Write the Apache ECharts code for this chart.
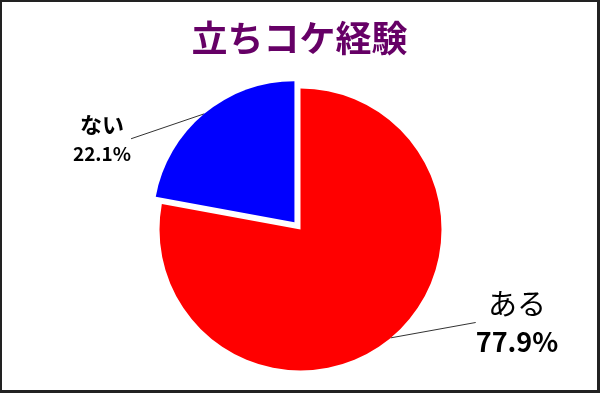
<!DOCTYPE html>
<html><head><meta charset="utf-8">
<script src="https://cdn.jsdelivr.net/npm/echarts@6/dist/echarts.min.js"></script>
<style>
html,body{margin:0;padding:0;background:#fff;}
#c{width:600px;height:393px;box-sizing:border-box;border:2px solid #222;border-right-width:3px;border-bottom-width:3px;}
</style></head><body>
<div id="c"></div>
<script>
var titleText = '立ちコケ経験';
var categories = ['ある', 'ない'];
var values = [77.9, 22.1];
var colors = ['#ff0000', '#0000ff'];

var chart = echarts.init(document.getElementById('c'));
var cx = 298.5, cy = 227.5, R = 141;
var explodeIdx = 1, explodeDist = 9.5;
var labelPos = [
  {x: 515, y: 319},
  {x: 100, y: 137}
];
var richByIdx = [
  {n: {fontSize: 29, fontWeight: 'normal', color: '#000', lineHeight: 42, fontFamily: 'Noto Sans CJK JP'},
   p: {fontSize: 27, fontWeight: 'bold', color: '#000', lineHeight: 34, fontFamily: 'Noto Sans CJK JP'}},
  {n: {fontSize: 22, fontWeight: 'bold', color: '#000', lineHeight: 30, fontFamily: 'Noto Sans CJK JP'},
   p: {fontSize: 19, fontWeight: 'bold', color: '#000', lineHeight: 28, fontFamily: 'Noto Sans CJK JP'}}
];
var total = values.reduce(function (a, b) { return a + b; }, 0);
var before = 0;
for (var k = 0; k < explodeIdx; k++) before += values[k];
var midFrac = (before + values[explodeIdx] / 2) / total;
var midAng = Math.PI / 2 - midFrac * 2 * Math.PI;
var ox = explodeDist * Math.cos(midAng), oy = -explodeDist * Math.sin(midAng);

function makeData(showIdx) {
  return categories.map(function (c, i) {
    var on = showIdx(i);
    return {
      name: c,
      value: values[i],
      itemStyle: {color: on ? colors[i] : 'rgba(0,0,0,0)'},
      label: on ? {
        show: true,
        formatter: '{n|' + c + '}\n{p|' + values[i].toFixed(1) + '%}',
        rich: richByIdx[i]
      } : {show: false},
      labelLine: {show: on}
    };
  });
}
var common = {
  type: 'pie',
  radius: R,
  startAngle: 90,
  clockwise: true,
  silent: true,
  label: {position: 'outside', align: 'center'},
  labelLine: {length: 20, length2: 0, lineStyle: {color: '#333', width: 1}},
  labelLayout: function (p) {
    var pos = labelPos[p.dataIndex];
    return {x: pos.x, y: pos.y, align: 'center', verticalAlign: 'middle'};
  },
  emphasis: {disabled: true}
};
chart.setOption({
  animation: false,
  backgroundColor: '#fff',
  title: {
    text: titleText, left: 'center', top: 13,
    textStyle: {color: '#660066', fontSize: 36, fontWeight: 'bold', fontFamily: 'Noto Sans CJK JP'}
  },
  series: [
    Object.assign({}, common, {center: [cx, cy], data: makeData(function (i) { return i !== explodeIdx; })}),
    Object.assign({}, common, {center: [cx + ox, cy + oy], data: makeData(function (i) { return i === explodeIdx; })})
  ]
});
</script></body></html>
